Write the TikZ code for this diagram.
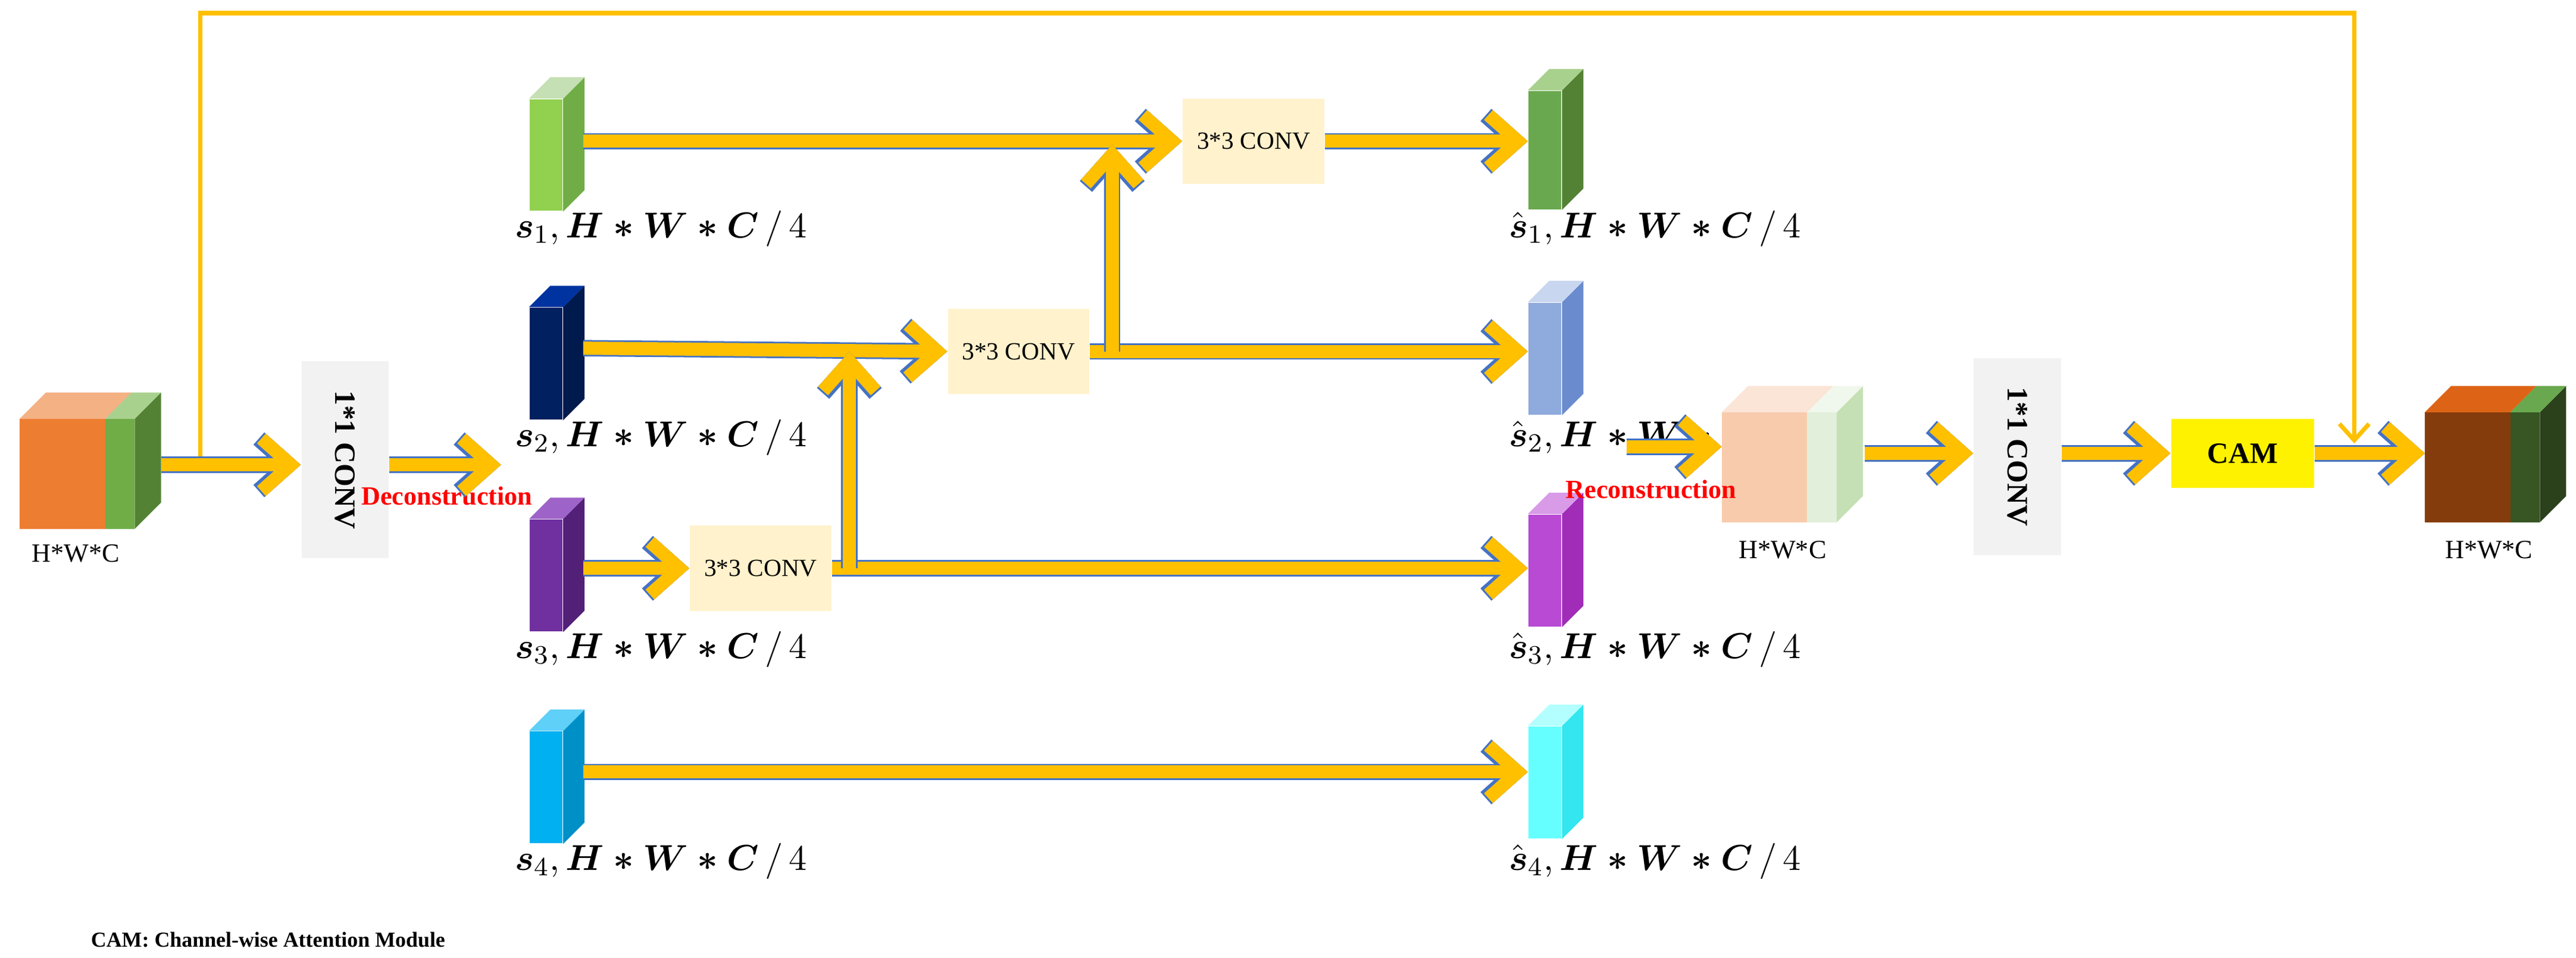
\documentclass[tikz,border=0pt]{standalone}
\usepackage{amsmath}
\usepackage{fontspec}
\setmainfont{Liberation Serif}
\usetikzlibrary{arrows.meta}
\definecolor{flowfill}{HTML}{FFC000}
\definecolor{flowedge}{HTML}{4472C4}
\definecolor{convfill}{HTML}{FFF2CC}
\definecolor{onefill}{HTML}{F2F2F2}
\tikzset{
  flow/.style={preaction={draw=flowedge,line width=5pt,
      -{Straight Barb[length=9pt,width=16pt,line width=5pt]}},
    draw=flowfill,line width=4pt,
    -{Straight Barb[length=9pt,width=16pt,line width=4pt]}},
  skip/.style={draw=flowfill,line width=1.3pt,
    -{Straight Barb[length=5pt,width=9pt,line width=1.3pt]}},
  conv/.style={fill=convfill,minimum width=43pt,minimum height=26pt,inner sep=0,
    font=\fontsize{7.5}{8}\selectfont},
  onebox/.style={fill=onefill,minimum width=26.5pt,minimum height=60pt,inner sep=0},
  dim/.style={font=\fontsize{11}{12}\selectfont,anchor=north west,inner sep=0},
  small/.style={font=\fontsize{8}{9}\selectfont,inner sep=0},
  red/.style={text=red,font=\fontsize{8}{9}\selectfont\bfseries,inner sep=0}
}
% bar: name, x, y top, height(pt), front, side, top (hex)
\newcommand\featbar[7]{%
  \definecolor{barA}{HTML}{#5}\definecolor{barB}{HTML}{#6}\definecolor{barC}{HTML}{#7}%
  \node[fill=barA,minimum width=10pt,minimum height=#4,inner sep=0,anchor=north west] (#1) at (#2,#3) {};
  \fill[barB] (#1.north east) -- ++(13,-13) -- ([shift={(13,-13)}]#1.south east) -- (#1.south east) -- cycle;
  \fill[barC] (#1.north west) -- ++(13,-13) -- ([shift={(13,-13)}]#1.north east) -- (#1.north east) -- cycle;
}
% cube: name, x0, x1, y top, front, stripe, side, top, stripetop (hex)
\newcommand\featcube[9]{%
  \definecolor{cubA}{HTML}{#5}\definecolor{cubB}{HTML}{#6}\definecolor{cubC}{HTML}{#7}%
  \definecolor{cubD}{HTML}{#8}\definecolor{cubE}{HTML}{#9}%
  \fill[cubA] (#2,#4) rectangle (#3,#4+67);
  \fill[cubB] (#3,#4) rectangle (#3+18,#4+67);
  \fill[cubC] (#3+18,#4) -- ++(16,-16) -- ++(0,67) -- (#3+18,#4+67) -- cycle;
  \fill[cubD] (#2,#4) -- ++(16,-16) -- (#3+16,#4-16) -- (#3,#4) -- cycle;
  \fill[cubE] (#3,#4) -- ++(16,-16) -- ++(18,0) -- (#3+18,#4) -- cycle;
  \coordinate (#1) at (#2,#4);
}
\begin{document}
\begin{tikzpicture}[x=0.5pt,y=-0.5pt]
\useasboundingbox (0,0) rectangle (1568,583);
% input cube
\featcube{cin}{12}{64}{255}{ED7D31}{70AD47}{548235}{F4B183}{A9D18E}
\node[small] (lin) at (46,337) {H*W*C};
\coordinate (cinr) at (98,283);
\coordinate (skipa) at (122,283);
\node[onebox] (one1) at (210,280) {};
\node[rotate=-90,font=\fontsize{9}{10}\selectfont\bfseries] at (one1) {1*1 CONV};
\coordinate (deco) at (305,283);
\node[red] (lde) at (272,302) {Deconstruction};
% split bars
\featbar{s1}{322}{60}{34pt}{92D050}{70AD47}{C5E0B4}
\featbar{s2}{322}{187}{34pt}{002060}{001A4D}{0033A0}
\featbar{s3}{322}{316}{34pt}{7030A0}{532078}{9E63C9}
\featbar{s4}{322}{445}{34pt}{00B0F0}{0090C8}{5FD0F8}
\node[dim] at (313,128) {$\boldsymbol{s}_1,\boldsymbol{H*W*C}\,/\,4$};
\node[dim] at (313,255) {$\boldsymbol{s}_2,\boldsymbol{H*W*C}\,/\,4$};
\node[dim] at (313,384) {$\boldsymbol{s}_3,\boldsymbol{H*W*C}\,/\,4$};
\node[dim] at (313,513) {$\boldsymbol{s}_4,\boldsymbol{H*W*C}\,/\,4$};
% conv boxes
\node[conv] (c1) at (763,86) {3*3 CONV};
\node[conv] (c2) at (620,214) {3*3 CONV};
\node[conv] (c3) at (463,346) {3*3 CONV};
% output bars
\featbar{h1}{930}{55}{36pt}{6AA84F}{548235}{A9D18E}
\featbar{h2}{930}{184}{34pt}{8FAADC}{6A8CCF}{C9D6EF}
\featbar{h3}{930}{313}{34pt}{B84AD4}{A02CB8}{D99AE8}
\featbar{h4}{930}{442}{34pt}{66FFFF}{33E6F0}{B3FFFF}
\node[dim] at (918,128) {$\hat{\boldsymbol{s}}_1,\boldsymbol{H*W*C}\,/\,4$};
\node[dim] at (918,255) {$\hat{\boldsymbol{s}}_2,\boldsymbol{H*W*C}\,/\,4$};
\node[dim] at (918,384) {$\hat{\boldsymbol{s}}_3,\boldsymbol{H*W*C}\,/\,4$};
\node[dim] at (918,513) {$\hat{\boldsymbol{s}}_4,\boldsymbol{H*W*C}\,/\,4$};
% merge cube
\featcube{cmid}{1048}{1100}{251}{F8CBAD}{E2EFDA}{C5E0B4}{FBE5D6}{F0F7EC}
\node[small] (lmid) at (1085,335) {H*W*C};
\node[red] (lre) at (1005,298) {Reconstruction};
\coordinate (cmidl) at (1048,272);
\coordinate (cmidr) at (1135,276);
\node[onebox] (one2) at (1228,278) {};
\node[rotate=-90,font=\fontsize{9}{10}\selectfont\bfseries] at (one2) {1*1 CONV};
\node[fill=yellow,minimum width=43.5pt,minimum height=21pt,inner sep=0,
  font=\fontsize{9}{10}\selectfont\bfseries] (cam) at (1365,276) {CAM};
% output cube
\featcube{cout}{1476}{1528}{251}{843C0C}{375623}{2A411B}{DD6416}{6AA84F}
\node[small] (lout) at (1515,335) {H*W*C};
\coordinate (coutl) at (1476,276);
% skip connection
\coordinate (skipb) at (122,8);
\coordinate (skipc) at (1433,8);
\coordinate (skipd) at (1433,270);
\draw[skip] (skipa) -- (skipb) -- (skipc) -- (skipd);
% flows
\draw[flow] (cinr) -- (one1.west |- cinr);
\draw[flow] (one1.east |- deco) -- (deco);
\coordinate (s1r) at (355,86);   \draw[flow] (s1r) -- (c1.west);
\coordinate (s2r) at (355,212);  \draw[flow] (s2r) -- (c2.west);
\coordinate (s3r) at (355,346);  \draw[flow] (s3r) -- (c3.west);
\coordinate (s4r) at (355,470);  \draw[flow] (s4r) -- (h4.west |- s4r);
\draw[flow] (c1.east) -- (h1.west |- c1.east);
\draw[flow] (c2.east) -- (h2.west |- c2.east);
\draw[flow] (c3.east) -- (h3.west |- c3.east);
\coordinate (v1) at (517,346); \coordinate (v1t) at (517,214);
\draw[flow] (v1) -- (v1t);
\coordinate (v2) at (677,214); \coordinate (v2t) at (677,88);
\draw[flow] (v2) -- (v2t);
\coordinate (h2o) at (990,272);
\draw[flow] (h2o) -- (cmidl);
\draw[flow] (cmidr) -- (one2.west |- cmidr);
\draw[flow] (one2.east |- cam) -- (cam.west);
\draw[flow] (cam.east) -- (coutl);
\node[anchor=west,inner sep=0,font=\fontsize{6.5}{7}\selectfont\bfseries] (note) at (55,572) {CAM: Channel-wise Attention Module};
\end{tikzpicture}
\end{document}
